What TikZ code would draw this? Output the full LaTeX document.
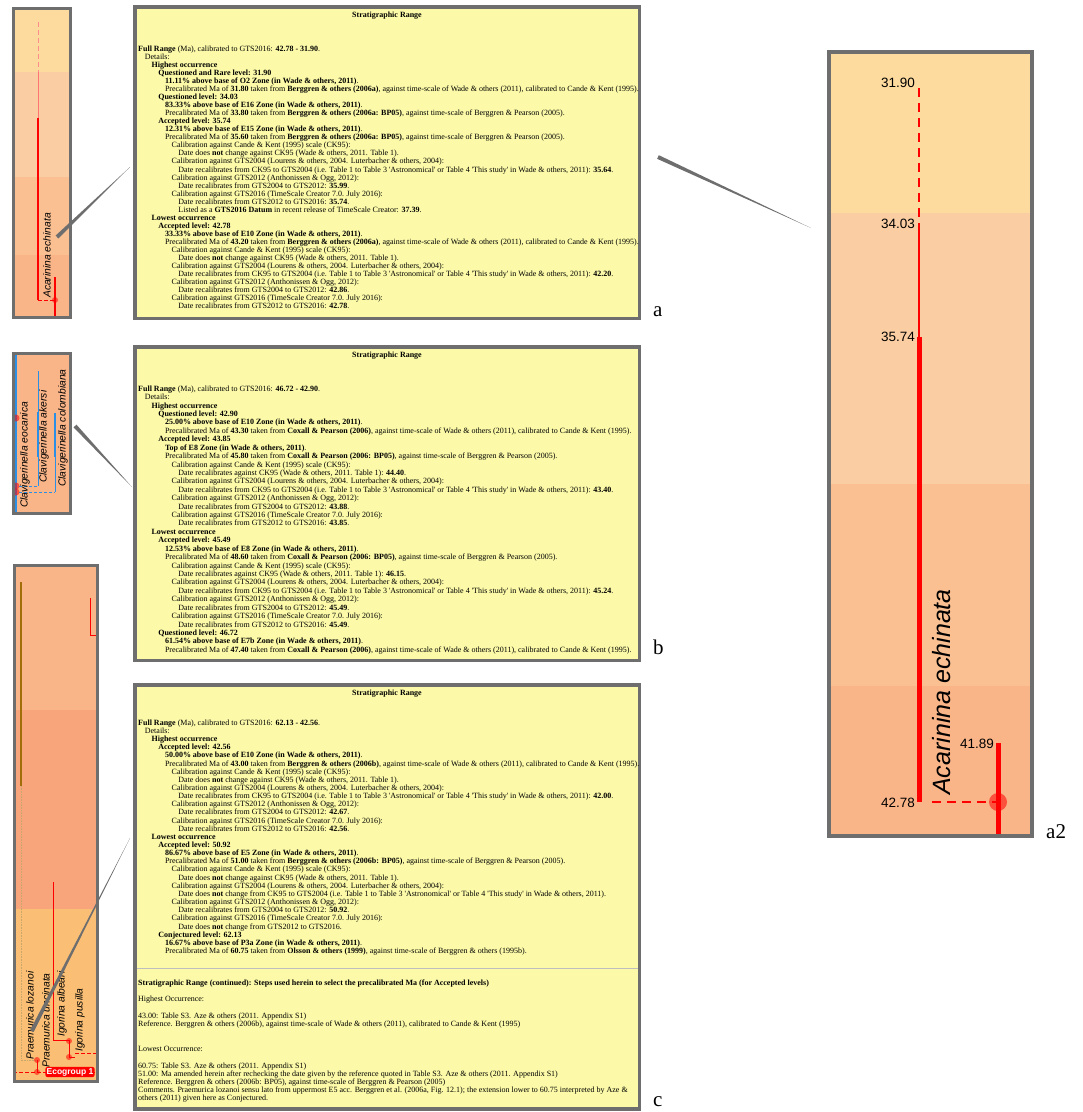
\documentclass[tikz,border=0pt]{standalone}
\usepackage{fontspec}
\setmainfont{Liberation Serif}
\setsansfont{Liberation Sans}
\newfontfamily\rangefont{Liberation Serif}
\usepackage{tikz}
\usetikzlibrary{positioning,calc}
\definecolor{panelyellow}{HTML}{FCFAA8}
\definecolor{framegray}{HTML}{6E6E6E}
\definecolor{bandA}{HTML}{FDDA9E}
\definecolor{bandB}{HTML}{FBCDA3}
\definecolor{bandC}{HTML}{FAC092}
\definecolor{bandD}{HTML}{F9B488}
\definecolor{bandE}{HTML}{F8A57B}
\definecolor{bandF}{HTML}{FABF75}
\definecolor{rangered}{HTML}{FF0000}
\definecolor{rangeblue}{HTML}{2B8FE6}
\definecolor{rangebrown}{HTML}{A26E0A}
\newlength\indstep
\setlength\indstep{6.7pt}
\newcommand{\ind}[1]{\hspace*{#1\indstep}}
\tikzset{
  rangebox/.style={draw=framegray,fill=panelyellow,line width=3.5pt,
                   anchor=north west,inner sep=0pt,outer sep=0pt},
  rangetitle/.style={font=\rangefont\bfseries\fontsize{8}{8}\selectfont,
                     inner sep=0pt},
  rangetext/.style={align=left,anchor=north west,inner sep=0pt},
  stripframe/.style={draw=framegray,line width=3pt},
  taxonlabel/.style={font=\sffamily\itshape\fontsize{10.3}{11}\selectfont,
                     rotate=90,anchor=west,inner sep=0pt},
  agelabel/.style={font=\sffamily\fontsize{13.5}{14}\selectfont,
                   anchor=east,inner sep=1pt},
  panelletter/.style={font=\fontsize{21}{22}\selectfont,anchor=base west,
                      inner sep=0pt},
  zoomlink/.style={fill=framegray},
  occdot/.style={fill=rangered,opacity=0.55}
}
\begin{document}
\begin{tikzpicture}[x=1pt,y=-1pt]
  \path[use as bounding box] (0,0) rectangle (1083,1112);
  % left strips
  \fill[bandA] (13,8) rectangle (70,72);
  \fill[bandB] (13,72) rectangle (70,177);
  \fill[bandC] (13,177) rectangle (70,255);
  \fill[bandD] (13,255) rectangle (70,317);
  \draw[rangered!45,line width=1pt,dash pattern=on 5pt off 3pt] (38,22) -- (38,72);
  \draw[rangered!55,line width=0.8pt] (38,72) -- (38,118);
  \draw[rangered,line width=1.8pt] (38,118) -- (38,300);
  \draw[rangered,line width=1pt,dash pattern=on 4pt off 2pt] (38,300) -- (55,300);
  \draw[rangered,line width=1.8pt] (55,277) -- (55,317);
  \fill[occdot] (55,300) circle[radius=3];
  \node[taxonlabel] (echa) at (47,298) {Acarinina echinata};
  \draw[stripframe] (13,8) rectangle (70,317);

  \fill[bandD] (13,353) rectangle (70,513);
  \draw[rangeblue,line width=2.5pt] (16,354) -- (16,512);
  \draw[rangeblue,line width=0.8pt] (38,371) -- (38,486);
  \draw[rangeblue,line width=2pt] (38,412) -- (38,457);
  \draw[rangeblue,line width=0.8pt] (55,413) -- (55,492);
  \draw[rangeblue,line width=2pt] (55,413) -- (55,457);
  \draw[rangeblue,line width=0.8pt,dash pattern=on 3pt off 2pt] (19,486) -- (38,486);
  \draw[rangeblue,line width=0.8pt,dash pattern=on 3pt off 2pt] (19,492) -- (55,492);
  \fill[occdot] (16,418) circle[radius=3.5];
  \fill[occdot] (16,486) circle[radius=3.5];
  \fill[occdot] (16,492) circle[radius=3.5];
  \node[taxonlabel] (eoca) at (25,508) {Clavigerinella eocanica};
  \node[taxonlabel] (aker) at (44,483) {Clavigerinella akersi};
  \node[taxonlabel] (colo) at (63,487) {Clavigerinella colombiana};
  \draw[stripframe] (13,353) rectangle (70,513);

  \fill[bandD] (13,564) rectangle (97,710);
  \fill[bandE] (13,710) rectangle (97,909);
  \fill[bandF] (13,909) rectangle (97,1082);
  \draw[rangebrown,line width=1.5pt] (21,582) -- (21,786);
  \draw[rangebrown!60,densely dotted,line width=0.6pt] (21,786) -- (21,1060) -- (37,1060);
  \draw[rangered,line width=1pt] (90,598) -- (90,635) -- (97,635);
  \draw[rangered,line width=1pt] (53,882) -- (53,1040) -- (69,1040) -- (69,1057) -- (75,1057);
  \draw[rangered,line width=1pt,dash pattern=on 4pt off 2pt] (75,1053) -- (97,1053);
  \draw[rangered,line width=1pt] (37,1060) -- (37,1072);
  \draw[rangered,line width=1pt,dash pattern=on 4pt off 2pt] (13,1072) -- (97,1072);
  \fill[occdot] (69,1041) circle[radius=3];
  \fill[occdot] (69,1057) circle[radius=3];
  \fill[occdot] (37,1060) circle[radius=3];
  \fill[occdot] (37,1072) circle[radius=3];
  \node[taxonlabel] (loza) at (30,1060) {Praemurica lozanoi};
  \node[taxonlabel] (unci) at (46,1068) {Praemurica uncinata};
  \node[taxonlabel] (albe) at (62,1037) {Igorina albeari};
  \node[taxonlabel] (pusi) at (80,1052) {Igorina pusilla};
  \node[fill=rangered,rounded corners=2pt,inner sep=1.2pt,text=white,
        font=\sffamily\bfseries\fontsize{8.5}{9}\selectfont] (eco) at (70,1072) {Ecogroup 1};
  \draw[stripframe] (14,565) rectangle (97,1081);

  % text panels
  \node[rangebox,minimum width=504.5,minimum height=311.5] (boxa) at (134.75,6.75) {};
  \node[rangebox,minimum width=504.5,minimum height=313.5] (boxb) at (134.75,346.75) {};
  \node[rangebox,minimum width=504.5,minimum height=424] (boxc) at (134.75,684.75) {};
  \node[rangetitle,below=4.5pt of boxa.north] (titlea) {Stratigraphic Range};
  \node[rangetitle,below=4.5pt of boxb.north] (titleb) {Stratigraphic Range};
  \node[rangetitle,below=5pt of boxc.north] (titlec) {Stratigraphic Range};

  \node[rangetext,font=\rangefont\fontsize{8}{8.05}\selectfont] (texta) at (138,45.5) {%
    \textbf{Full Range} (Ma), calibrated to GTS2016: \textbf{42.78 - 31.90}.\\
    \ind{1}Details:\\
    \ind{2}\textbf{Highest occurrence}\\
    \ind{3}\textbf{Questioned and Rare level: 31.90}\\
    \ind{4}\textbf{11.11\% above base of O2 Zone (in Wade \& others, 2011)}.\\
    \ind{4}Precalibrated Ma of \textbf{31.80} taken from \textbf{Berggren \& others (2006a)}, against time-scale of Wade \& others (2011), calibrated to Cande \& Kent (1995).\\
    \ind{3}\textbf{Questioned level: 34.03}\\
    \ind{4}\textbf{83.33\% above base of E16 Zone (in Wade \& others, 2011)}.\\
    \ind{4}Precalibrated Ma of \textbf{33.80} taken from \textbf{Berggren \& others (2006a: BP05)}, against time-scale of Berggren \& Pearson (2005).\\
    \ind{3}\textbf{Accepted level: 35.74}\\
    \ind{4}\textbf{12.31\% above base of E15 Zone (in Wade \& others, 2011)}.\\
    \ind{4}Precalibrated Ma of \textbf{35.60} taken from \textbf{Berggren \& others (2006a: BP05)}, against time-scale of Berggren \& Pearson (2005).\\
    \ind{5}Calibration against Cande \& Kent (1995) scale (CK95):\\
    \ind{6}Date does \textbf{not} change against CK95 (Wade \& others, 2011. Table 1).\\
    \ind{5}Calibration against GTS2004 (Lourens \& others, 2004. Luterbacher \& others, 2004):\\
    \ind{6}Date recalibrates from CK95 to GTS2004 (i.e. Table 1 to Table 3 'Astronomical' or Table 4 'This study' in Wade \& others, 2011): \textbf{35.64}.\\
    \ind{5}Calibration against GTS2012 (Anthonissen \& Ogg, 2012):\\
    \ind{6}Date recalibrates from GTS2004 to GTS2012: \textbf{35.99}.\\
    \ind{5}Calibration against GTS2016 (TimeScale Creator 7.0. July 2016):\\
    \ind{6}Date recalibrates from GTS2012 to GTS2016: \textbf{35.74}.\\
    \ind{6}Listed as a \textbf{GTS2016 Datum} in recent release of TimeScale Creator: \textbf{37.39}.\\
    \ind{2}\textbf{Lowest occurrence}\\
    \ind{3}\textbf{Accepted level: 42.78}\\
    \ind{4}\textbf{33.33\% above base of E10 Zone (in Wade \& others, 2011)}.\\
    \ind{4}Precalibrated Ma of \textbf{43.20} taken from \textbf{Berggren \& others (2006a)}, against time-scale of Wade \& others (2011), calibrated to Cande \& Kent (1995).\\
    \ind{5}Calibration against Cande \& Kent (1995) scale (CK95):\\
    \ind{6}Date does \textbf{not} change against CK95 (Wade \& others, 2011. Table 1).\\
    \ind{5}Calibration against GTS2004 (Lourens \& others, 2004. Luterbacher \& others, 2004):\\
    \ind{6}Date recalibrates from CK95 to GTS2004 (i.e. Table 1 to Table 3 'Astronomical' or Table 4 'This study' in Wade \& others, 2011): \textbf{42.20}.\\
    \ind{5}Calibration against GTS2012 (Anthonissen \& Ogg, 2012):\\
    \ind{6}Date recalibrates from GTS2004 to GTS2012: \textbf{42.86}.\\
    \ind{5}Calibration against GTS2016 (TimeScale Creator 7.0. July 2016):\\
    \ind{6}Date recalibrates from GTS2012 to GTS2016: \textbf{42.78}.};

  \node[rangetext,font=\rangefont\fontsize{8}{8.42}\selectfont] (textb) at (138,385.5) {%
    \textbf{Full Range} (Ma), calibrated to GTS2016: \textbf{46.72 - 42.90}.\\
    \ind{1}Details:\\
    \ind{2}\textbf{Highest occurrence}\\
    \ind{3}\textbf{Questioned level: 42.90}\\
    \ind{4}\textbf{25.00\% above base of E10 Zone (in Wade \& others, 2011)}.\\
    \ind{4}Precalibrated Ma of \textbf{43.30} taken from \textbf{Coxall \& Pearson (2006)}, against time-scale of Wade \& others (2011), calibrated to Cande \& Kent (1995).\\
    \ind{3}\textbf{Accepted level: 43.85}\\
    \ind{4}\textbf{Top of E8 Zone (in Wade \& others, 2011)}.\\
    \ind{4}Precalibrated Ma of \textbf{45.80} taken from \textbf{Coxall \& Pearson (2006: BP05)}, against time-scale of Berggren \& Pearson (2005).\\
    \ind{5}Calibration against Cande \& Kent (1995) scale (CK95):\\
    \ind{6}Date recalibrates against CK95 (Wade \& others, 2011. Table 1): \textbf{44.40}.\\
    \ind{5}Calibration against GTS2004 (Lourens \& others, 2004. Luterbacher \& others, 2004):\\
    \ind{6}Date recalibrates from CK95 to GTS2004 (i.e. Table 1 to Table 3 'Astronomical' or Table 4 'This study' in Wade \& others, 2011): \textbf{43.40}.\\
    \ind{5}Calibration against GTS2012 (Anthonissen \& Ogg, 2012):\\
    \ind{6}Date recalibrates from GTS2004 to GTS2012: \textbf{43.88}.\\
    \ind{5}Calibration against GTS2016 (TimeScale Creator 7.0. July 2016):\\
    \ind{6}Date recalibrates from GTS2012 to GTS2016: \textbf{43.85}.\\
    \ind{2}\textbf{Lowest occurrence}\\
    \ind{3}\textbf{Accepted level: 45.49}\\
    \ind{4}\textbf{12.53\% above base of E8 Zone (in Wade \& others, 2011)}.\\
    \ind{4}Precalibrated Ma of \textbf{48.60} taken from \textbf{Coxall \& Pearson (2006: BP05)}, against time-scale of Berggren \& Pearson (2005).\\
    \ind{5}Calibration against Cande \& Kent (1995) scale (CK95):\\
    \ind{6}Date recalibrates against CK95 (Wade \& others, 2011. Table 1): \textbf{46.15}.\\
    \ind{5}Calibration against GTS2004 (Lourens \& others, 2004. Luterbacher \& others, 2004):\\
    \ind{6}Date recalibrates from CK95 to GTS2004 (i.e. Table 1 to Table 3 'Astronomical' or Table 4 'This study' in Wade \& others, 2011): \textbf{45.24}.\\
    \ind{5}Calibration against GTS2012 (Anthonissen \& Ogg, 2012):\\
    \ind{6}Date recalibrates from GTS2004 to GTS2012: \textbf{45.49}.\\
    \ind{5}Calibration against GTS2016 (TimeScale Creator 7.0. July 2016):\\
    \ind{6}Date recalibrates from GTS2012 to GTS2016: \textbf{45.49}.\\
    \ind{3}\textbf{Questioned level: 46.72}\\
    \ind{4}\textbf{61.54\% above base of E7b Zone (in Wade \& others, 2011)}.\\
    \ind{4}Precalibrated Ma of \textbf{47.40} taken from \textbf{Coxall \& Pearson (2006)}, against time-scale of Wade \& others (2011), calibrated to Cande \& Kent (1995).};

  \node[rangetext,font=\rangefont\fontsize{8}{8.15}\selectfont] (textc) at (138,719.5) {%
    \textbf{Full Range} (Ma), calibrated to GTS2016: \textbf{62.13 - 42.56}.\\
    \ind{1}Details:\\
    \ind{2}\textbf{Highest occurrence}\\
    \ind{3}\textbf{Accepted level: 42.56}\\
    \ind{4}\textbf{50.00\% above base of E10 Zone (in Wade \& others, 2011)}.\\
    \ind{4}Precalibrated Ma of \textbf{43.00} taken from \textbf{Berggren \& others (2006b)}, against time-scale of Wade \& others (2011), calibrated to Cande \& Kent (1995).\\
    \ind{5}Calibration against Cande \& Kent (1995) scale (CK95):\\
    \ind{6}Date does \textbf{not} change against CK95 (Wade \& others, 2011. Table 1).\\
    \ind{5}Calibration against GTS2004 (Lourens \& others, 2004. Luterbacher \& others, 2004):\\
    \ind{6}Date recalibrates from CK95 to GTS2004 (i.e. Table 1 to Table 3 'Astronomical' or Table 4 'This study' in Wade \& others, 2011): \textbf{42.00}.\\
    \ind{5}Calibration against GTS2012 (Anthonissen \& Ogg, 2012):\\
    \ind{6}Date recalibrates from GTS2004 to GTS2012: \textbf{42.67}.\\
    \ind{5}Calibration against GTS2016 (TimeScale Creator 7.0. July 2016):\\
    \ind{6}Date recalibrates from GTS2012 to GTS2016: \textbf{42.56}.\\
    \ind{2}\textbf{Lowest occurrence}\\
    \ind{3}\textbf{Accepted level: 50.92}\\
    \ind{4}\textbf{86.67\% above base of E5 Zone (in Wade \& others, 2011)}.\\
    \ind{4}Precalibrated Ma of \textbf{51.00} taken from \textbf{Berggren \& others (2006b: BP05)}, against time-scale of Berggren \& Pearson (2005).\\
    \ind{5}Calibration against Cande \& Kent (1995) scale (CK95):\\
    \ind{6}Date does \textbf{not} change against CK95 (Wade \& others, 2011. Table 1).\\
    \ind{5}Calibration against GTS2004 (Lourens \& others, 2004. Luterbacher \& others, 2004):\\
    \ind{6}Date does \textbf{not} change from CK95 to GTS2004 (i.e. Table 1 to Table 3 'Astronomical' or Table 4 'This study' in Wade \& others, 2011).\\
    \ind{5}Calibration against GTS2012 (Anthonissen \& Ogg, 2012):\\
    \ind{6}Date recalibrates from GTS2004 to GTS2012: \textbf{50.92}.\\
    \ind{5}Calibration against GTS2016 (TimeScale Creator 7.0. July 2016):\\
    \ind{6}Date does \textbf{not} change from GTS2012 to GTS2016.\\
    \ind{3}\textbf{Conjectured level: 62.13}\\
    \ind{4}\textbf{16.67\% above base of P3a Zone (in Wade \& others, 2011)}.\\
    \ind{4}Precalibrated Ma of \textbf{60.75} taken from \textbf{Olsson \& others (1999)}, against time-scale of Berggren \& others (1995b).};
  \draw[framegray!45,line width=1pt] (136.5,968) -- (637.5,968);
  \node[rangetext,font=\rangefont\fontsize{8}{8.1}\selectfont] (notesc) at (138,979.5) {%
    \textbf{Stratigraphic Range (continued): Steps used herein to select the precalibrated Ma (for Accepted levels)}\\[8pt]
    Highest Occurrence:\\[8.5pt]
    43.00: Table S3. Aze \& others (2011. Appendix S1)\\
    Reference. Berggren \& others (2006b), against time-scale of Wade \& others (2011), calibrated to Cande \& Kent (1995)\\[17pt]
    Lowest Occurrence:\\[9pt]
    60.75: Table S3. Aze \& others (2011. Appendix S1)\\
    51.00: Ma amended herein after rechecking the date given by the reference quoted in Table S3. Aze \& others (2011. Appendix S1)\\
    Reference. Berggren \& others (2006b: BP05), against time-scale of Berggren \& Pearson (2005)\\
    Comments. Praemurica lozanoi sensu lato from uppermost E5 acc. Berggren et al. (2006a, Fig. 12.1); the extension lower to 60.75 interpreted by Aze \&\\
    others (2011) given here as Conjectured.};

  % enlarged range a2
  \fill[bandA] (829,52) rectangle (1032,213);
  \fill[bandB] (829,213) rectangle (1032,484);
  \fill[bandC] (829,484) rectangle (1032,686);
  \fill[bandD] (829,686) rectangle (1032,836);
  \draw[rangered,line width=1.2pt,dash pattern=on 9pt off 6pt] (919,88) -- (919,223);
  \draw[rangered,line width=1.2pt] (919,223) -- (919,337);
  \draw[rangered,line width=5pt] (919,337) -- (919,802);
  \draw[rangered,line width=1.5pt,dash pattern=on 9pt off 6pt] (932,802) -- (998,802);
  \fill[occdot] (998,802) circle[radius=9];
  \draw[rangered,line width=5pt] (998,743) -- (998,836);
  \node[agelabel] (top) at (916,83) {31.90};
  \node[agelabel] (qlev) at (916,224) {34.03};
  \node[agelabel] (alev) at (916,337) {35.74};
  \node[agelabel] (base) at (916,803) {42.78};
  \node[agelabel] (next) at (995,744) {41.89};
  \node[taxonlabel,font=\sffamily\itshape\fontsize{25}{26}\selectfont] (echb) at (942,795) {Acarinina echinata};
  \draw[stripframe,line width=3.5pt] (829,52) rectangle (1032,836);

  % zoom links
  \coordinate (la1) at (57,237);  \coordinate (la2) at (130,167);
  \coordinate (lb1) at (75,426);  \coordinate (lb2) at (132,487);
  \coordinate (lc1) at (32,1031); \coordinate (lc2) at (130,838);
  \coordinate (ld1) at (658,157); \coordinate (ld2) at (811,228);
  \fill[zoomlink] ($(la1)!2pt!90:(la2)$) -- ($(la1)!2pt!-90:(la2)$) -- (la2) -- cycle;
  \fill[zoomlink] ($(lb1)!2pt!90:(lb2)$) -- ($(lb1)!2pt!-90:(lb2)$) -- (lb2) -- cycle;
  \fill[zoomlink] ($(lc1)!2pt!90:(lc2)$) -- ($(lc1)!2pt!-90:(lc2)$) -- (lc2) -- cycle;
  \fill[zoomlink] ($(ld1)!2pt!90:(ld2)$) -- ($(ld1)!2pt!-90:(ld2)$) -- (ld2) -- cycle;

  \node[panelletter] (leta) at (653,316) {a};
  \node[panelletter] (letb) at (653,654) {b};
  \node[panelletter] (letc) at (653,1106) {c};
  \node[panelletter] (leta2) at (1046,838) {a2};
\end{tikzpicture}
\end{document}
